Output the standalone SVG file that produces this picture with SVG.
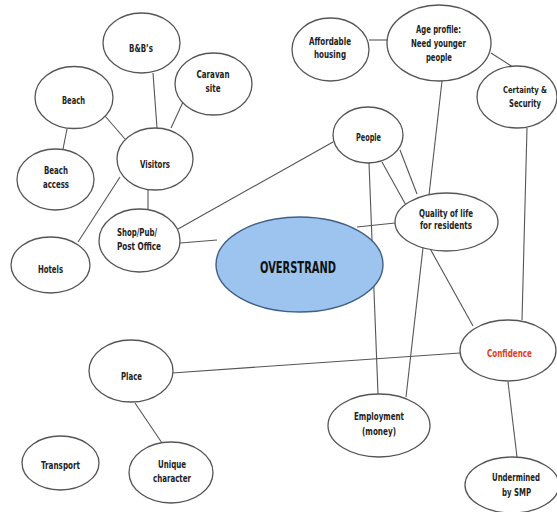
<svg xmlns="http://www.w3.org/2000/svg" width="557" height="512" viewBox="0 0 557 512">
<style>
.n ellipse{fill:#fff;stroke:#555;stroke-width:1.3}
.n text{font-family:"DejaVu Sans Condensed","DejaVu Sans","Liberation Sans",sans-serif;font-weight:bold;font-size:10.5px;fill:#222;text-anchor:middle}
#connectors line{stroke:#555;stroke-width:1.1}
</style>
<rect width="557" height="512" fill="#fff"/>
<g id="connectors">
<line x1="153" y1="73" x2="157" y2="128"/>
<line x1="183" y1="102" x2="171" y2="128"/>
<line x1="105" y1="116" x2="125" y2="139"/>
<line x1="67" y1="129" x2="63" y2="149"/>
<line x1="120" y1="177" x2="78" y2="242"/>
<line x1="148" y1="190" x2="148" y2="211"/>
<line x1="178" y1="229" x2="333" y2="142"/>
<line x1="180" y1="243" x2="217" y2="240"/>
<line x1="369" y1="40" x2="387" y2="40"/>
<line x1="491" y1="53" x2="513" y2="67"/>
<line x1="442" y1="81" x2="406" y2="397"/>
<line x1="400" y1="150" x2="417" y2="194"/>
<line x1="382" y1="162" x2="473" y2="326"/>
<line x1="369" y1="163" x2="378" y2="394"/>
<line x1="527" y1="128" x2="522" y2="320"/>
<line x1="357" y1="227" x2="395" y2="223"/>
<line x1="172" y1="373" x2="460" y2="353"/>
<line x1="135" y1="403" x2="162" y2="443"/>
<line x1="508" y1="382" x2="517" y2="457"/>
</g>
<g id="bnbs" class="n"><ellipse cx="141.5" cy="43" rx="38.5" ry="30"/><text x="141" y="52" textLength="24" lengthAdjust="spacingAndGlyphs">B&amp;B’s</text></g>
<g id="caravan" class="n"><ellipse cx="213.5" cy="84" rx="38.5" ry="31"/><text x="213" y="78" textLength="33" lengthAdjust="spacingAndGlyphs">Caravan</text><text x="213" y="92" textLength="15" lengthAdjust="spacingAndGlyphs">site</text></g>
<g id="beach" class="n"><ellipse cx="74" cy="97.5" rx="39" ry="31"/><text x="73.5" y="104" textLength="23" lengthAdjust="spacingAndGlyphs">Beach</text></g>
<g id="beach-access" class="n"><ellipse cx="55.5" cy="179.5" rx="38.5" ry="30.5"/><text x="56" y="174" textLength="24" lengthAdjust="spacingAndGlyphs">Beach</text><text x="56" y="188" textLength="26" lengthAdjust="spacingAndGlyphs">access</text></g>
<g id="visitors" class="n"><ellipse cx="155" cy="159" rx="38" ry="31"/><text x="155" y="168" textLength="30" lengthAdjust="spacingAndGlyphs">Visitors</text></g>
<g id="shop" class="n"><ellipse cx="139.5" cy="240.5" rx="40.5" ry="31.5"/><text x="137" y="236" textLength="40" lengthAdjust="spacingAndGlyphs">Shop/Pub/</text><text x="139" y="250" textLength="44" lengthAdjust="spacingAndGlyphs">Post Office</text></g>
<g id="hotels" class="n"><ellipse cx="50.5" cy="265" rx="39.5" ry="28"/><text x="50.5" y="273" textLength="25" lengthAdjust="spacingAndGlyphs">Hotels</text></g>
<g id="overstrand" class="n"><ellipse cx="299.5" cy="264.5" rx="83.5" ry="47.5" style="fill:#9cc4ee;stroke:#3f5f86;stroke-width:1.4"/><text x="298" y="273" style="font-size:15px;fill:#111" textLength="76" lengthAdjust="spacingAndGlyphs">OVERSTRAND</text></g>
<g id="affordable" class="n"><ellipse cx="330.5" cy="49.5" rx="38.5" ry="31.5"/><text x="330" y="45" textLength="42" lengthAdjust="spacingAndGlyphs">Affordable</text><text x="330" y="58" textLength="32" lengthAdjust="spacingAndGlyphs">housing</text></g>
<g id="age" class="n"><ellipse cx="439" cy="43" rx="52" ry="38"/><text x="438.5" y="33" textLength="45" lengthAdjust="spacingAndGlyphs">Age profile:</text><text x="438.5" y="47" textLength="55" lengthAdjust="spacingAndGlyphs">Need younger</text><text x="439" y="61" textLength="26" lengthAdjust="spacingAndGlyphs">people</text></g>
<g id="certainty" class="n"><ellipse cx="517" cy="97" rx="40" ry="31"/><text x="525" y="93" style="font-size:9px" textLength="44" lengthAdjust="spacingAndGlyphs">Certainty &amp;</text><text x="525" y="107" textLength="32" lengthAdjust="spacingAndGlyphs">Security</text></g>
<g id="people" class="n"><ellipse cx="368" cy="135" rx="35" ry="28"/><text x="368.5" y="141" textLength="25" lengthAdjust="spacingAndGlyphs">People</text></g>
<g id="quality" class="n"><ellipse cx="446.5" cy="222" rx="51.5" ry="29"/><text x="446" y="217" textLength="54" lengthAdjust="spacingAndGlyphs">Quality of life</text><text x="446" y="229" textLength="52" lengthAdjust="spacingAndGlyphs">for residents</text></g>
<g id="confidence" class="n"><ellipse cx="508" cy="350.5" rx="48" ry="30.5"/><text x="509.5" y="357" style="fill:#e0401a" textLength="45" lengthAdjust="spacingAndGlyphs">Confidence</text></g>
<g id="place" class="n"><ellipse cx="131" cy="371" rx="42" ry="31"/><text x="131.5" y="380" textLength="21" lengthAdjust="spacingAndGlyphs">Place</text></g>
<g id="transport" class="n"><ellipse cx="60.5" cy="463" rx="38.5" ry="27"/><text x="60.5" y="469" textLength="39" lengthAdjust="spacingAndGlyphs">Transport</text></g>
<g id="unique" class="n"><ellipse cx="171" cy="472.5" rx="42" ry="30.5"/><text x="172" y="468" textLength="28" lengthAdjust="spacingAndGlyphs">Unique</text><text x="172" y="482" textLength="38" lengthAdjust="spacingAndGlyphs">character</text></g>
<g id="employment" class="n"><ellipse cx="379" cy="425.5" rx="51" ry="31.5"/><text x="379" y="420" textLength="50" lengthAdjust="spacingAndGlyphs">Employment</text><text x="379" y="435" textLength="34" lengthAdjust="spacingAndGlyphs">(money)</text></g>
<g id="undermined" class="n"><ellipse cx="512" cy="485" rx="47" ry="28"/><text x="516" y="481" textLength="48" lengthAdjust="spacingAndGlyphs">Undermined</text><text x="516.5" y="496" textLength="29" lengthAdjust="spacingAndGlyphs">by SMP</text></g>
</svg>
